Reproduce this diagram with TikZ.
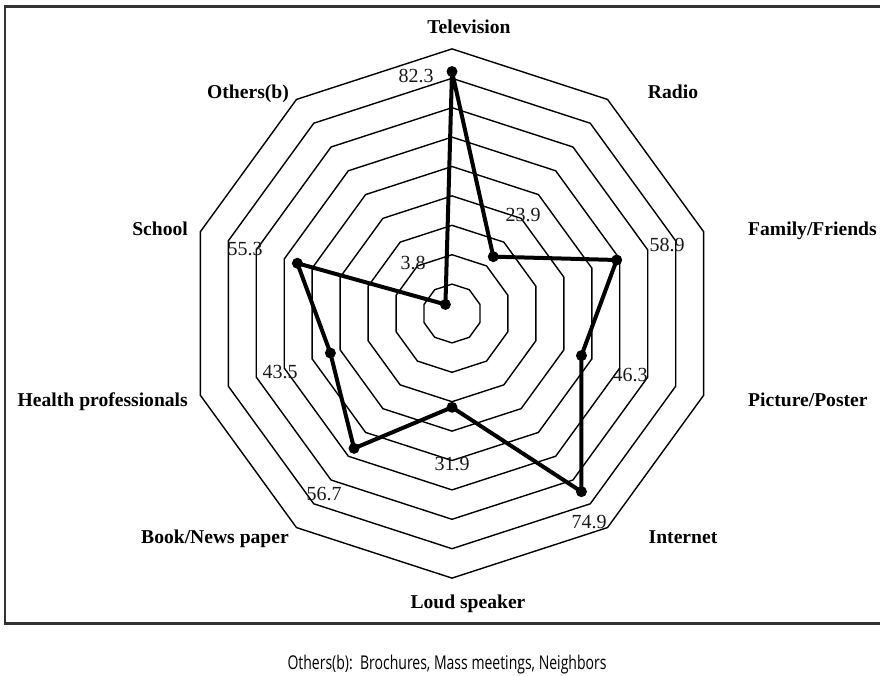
\documentclass[tikz,border=0pt]{standalone}
\usepackage{fontspec}
\setmainfont{Liberation Serif}
\newfontfamily\notefont{Open Sans}
\begin{document}
\begin{tikzpicture}[x=1pt,y=-1pt,
  ring/.style={line width=1.4pt, line join=miter},
  series/.style={line width=4pt, line join=round, line cap=round},
  datadot/.style={circle, fill=black, inner sep=0pt, minimum size=11pt},
  cat/.style={font=\fontsize{19.6}{20}\selectfont\bfseries, inner sep=0pt, anchor=base},
  val/.style={font=\fontsize{20}{20}\selectfont, inner sep=0pt, anchor=base, text=black!90},
  frame/.style={line width=2.6pt, draw=black!80}]
\useasboundingbox (0,0) rectangle (880,675);
\draw[frame] (5,6.5) rectangle (890,623.5);
\begin{scope}[shift={(452,313.5)}]
  \foreach \k in {1,...,9} {
    \draw[ring] (-90:{29.4*\k}) \foreach \a in {36,72,...,324} { -- ({\a-90}:{29.4*\k}) } -- cycle;
  }
  \foreach \v [count=\i] in {82.3,23.9,58.9,46.3,74.9,31.9,56.7,43.5,55.3,3.8}
    \coordinate (d\i) at ({36*(\i-1)-90}:{2.94*\v});
\end{scope}
\draw[series] (d1) -- (d2) -- (d3) -- (d4) -- (d5) -- (d6) -- (d7) -- (d8) -- (d9) -- (d10) -- cycle;
\foreach \i in {1,...,10} \node[datadot] (p\i) at (d\i) {};
% category labels
\node[cat] (tv) at (469,33) {Television};
\node[cat] (radio) at (673,98) {Radio};
\node[cat, anchor=base west] (fam) at (748,235) {Family/Friends};
\node[cat, anchor=base west] (pic) at (748,406) {Picture/Poster};
\node[cat] (inet) at (683,543) {Internet};
\node[cat] (loud) at (468,608) {Loud speaker};
\node[cat] (book) at (215,543) {Book/News paper};
\node[cat, anchor=base east] (health) at (188,406) {Health professionals};
\node[cat, anchor=base east] (school) at (188,235) {School};
\node[cat] (oth) at (248,98) {Others(b)};
% values
\node[val] (v1) at (416,82) {82.3};
\node[val] (v2) at (523,221) {23.9};
\node[val] (v3) at (667,251) {58.9};
\node[val] (v4) at (630,381) {46.3};
\node[val] (v5) at (589,528) {74.9};
\node[val] (v6) at (452,470) {31.9};
\node[val] (v7) at (324,500) {56.7};
\node[val] (v8) at (280,378) {43.5};
\node[val] (v9) at (245,255) {55.3};
\node[val] (v10) at (413,269) {3.8};
% footnote
\node[anchor=base, inner sep=0pt] (note) at (447,669) {\resizebox{319pt}{\height}{\notefont\fontsize{19}{19}\selectfont Others(b):\ \ Brochures, Mass meetings, Neighbors}};
\end{tikzpicture}
\end{document}
